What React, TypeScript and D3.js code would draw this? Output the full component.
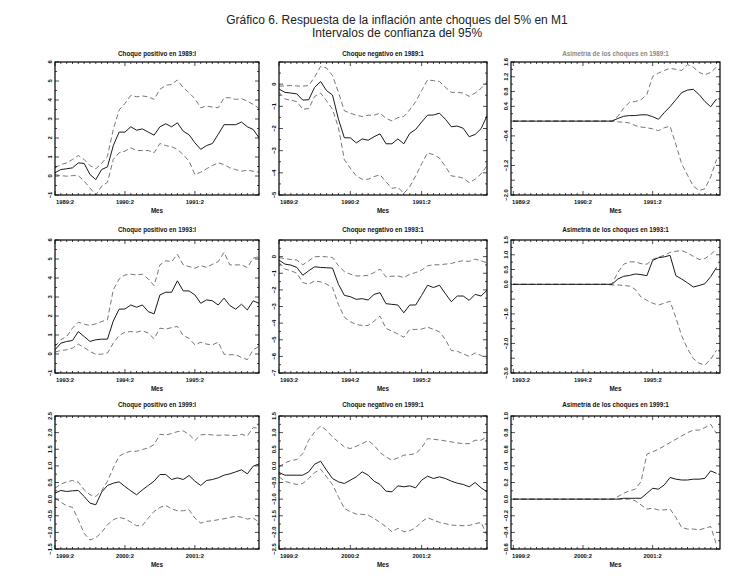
import * as d3 from 'd3'

const FONT = '"Liberation Sans", Arial, Helvetica, sans-serif'

// Panel titles, row by row
const TITLES = [
  'Choque positivo en 1989:I',
  'Choque negativo en 1989:1',
  'Asimetría de los choques en 1989:1',
  'Choque positivo en 1993:I',
  'Choque negativo en 1993:1',
  'Asimetría de los choques en 1993:1',
  'Choque positivo en 1999:I',
  'Choque negativo en 1999:1',
  'Asimetría de los choques en 1999:1',
]

// x tick labels at months 0, 12, 24 of each row
const X_LABELS = [
  ['1989:2', '1990:2', '1991:2'],
  ['1993:2', '1994:2', '1995:2'],
  ['1999:2', '2000:2', '2001:2'],
]
const X_MAJOR = [0, 12, 24]

// y axes: [min, max, step]
const Y_AXES: [number, number, number][] = [
  [-1, 6, 1], [-5, 1, 1], [-2.0, 1.6, 0.4],
  [-1, 6, 1], [-7, 1, 1], [-3, 1.5, 0.5],
  [-1.5, 2.5, 0.5], [-2.5, 1.5, 0.5], [-0.6, 1.0, 0.2],
]
// labelled y ticks per panel
const Y_LABELS: number[][] = [
  [-1, 0, 1, 2, 3, 4, 5, 6],
  [-5, -4, -3, -2, -1, 0],
  [-2.0, -1.2, -0.4, 0.4, 0.8, 1.2, 1.6],
  [-1, 0, 1, 2, 3, 4, 5, 6],
  [-7, -6, -5, -4, -3, -2, -1, 0],
  [-3.0, -2.0, -1.0, 0.0, 0.5, 1.0, 1.5],
  [-1.5, -1.0, -0.5, 0.0, 0.5, 1.0, 1.5, 2.0, 2.5],
  [-2.5, -2.0, -1.5, -1.0, -0.5, 0.0, 0.5, 1.0, 1.5],
  [-0.6, -0.4, -0.2, 0.0, 0.2, 0.4, 0.6, 0.8, 1.0],
]
const Y_DECIMALS = [0, 0, 1, 0, 0, 1, 1, 1, 1]

// ---- responses (36 months) ----
const P1_MID = [0.17, 0.34, 0.38, 0.43, 0.69, 0.66, 0.08, -0.19, 0.34, 0.48, 1.6, 2.31, 2.31, 2.59, 2.41, 2.48, 2.31, 2.15, 2.59, 2.75, 2.59, 2.8, 2.36, 2.17, 1.75, 1.4, 1.6, 1.71, 2.19, 2.7, 2.7, 2.7, 2.84, 2.59, 2.45, 2.01]
const P1_UP = [0.43, 0.6, 0.69, 0.87, 1.08, 0.87, 0.55, 0.38, 0.66, 1.04, 2.45, 3.47, 3.82, 4.24, 4.17, 4.21, 4.17, 4.03, 4.56, 4.77, 4.82, 5.05, 4.65, 4.38, 4.07, 3.59, 3.68, 3.63, 3.59, 4.12, 4.12, 4.03, 4.07, 3.94, 3.77, 3.56]
const P1_LO = [0.08, 0.02, -0.01, 0.02, 0.02, -0.27, -0.63, -1.0, -0.54, -0.33, 0.87, 1.22, 1.31, 1.48, 1.34, 1.34, 1.34, 1.22, 1.71, 1.6, 1.54, 1.4, 1.13, 0.78, 0.08, 0.2, 0.38, 0.55, 0.69, 0.6, 0.43, 0.34, 0.25, 0.31, 0.25, 0.2]

const P2_MID = [-0.22, -0.37, -0.4, -0.44, -0.72, -0.7, -0.14, 0.12, -0.29, -0.49, -1.58, -2.42, -2.42, -2.65, -2.47, -2.53, -2.37, -2.24, -2.69, -2.69, -2.47, -2.69, -2.22, -2.04, -1.71, -1.4, -1.39, -1.31, -1.58, -1.92, -1.89, -1.99, -2.37, -2.27, -2.01, -1.43]
const P2_UP = [-0.09, -0.08, -0.06, -0.08, -0.09, -0.06, 0.32, 0.8, 0.73, 0.39, -0.37, -1.2, -1.31, -1.4, -1.46, -1.4, -1.4, -1.31, -1.54, -1.66, -1.51, -1.46, -1.16, -0.79, -0.29, 0.19, 0.16, 0.12, -0.14, -0.37, -0.37, -0.4, -0.55, -0.4, -0.19, 0.09]
const P2_LO = [-0.37, -0.67, -0.72, -0.79, -1.13, -1.1, -0.55, -0.4, -0.75, -1.13, -1.96, -3.41, -3.79, -4.14, -4.29, -4.29, -4.17, -4.09, -4.4, -4.7, -4.65, -4.93, -4.62, -4.14, -3.59, -3.1, -3.18, -3.33, -3.71, -4.14, -4.17, -4.24, -4.44, -4.29, -4.05, -3.68]

const P3_MID = [0, 0, 0, 0, 0, 0, 0, 0, 0, 0, 0, 0, 0, 0, 0, 0, 0, 0, 0.07, 0.13, 0.15, 0.15, 0.17, 0.17, 0.12, 0.05, 0.23, 0.39, 0.58, 0.77, 0.84, 0.86, 0.72, 0.53, 0.39, 0.6]
const P3_UP = [0, 0, 0, 0, 0, 0, 0, 0, 0, 0, 0, 0, 0, 0, 0, 0, 0, 0, 0.13, 0.35, 0.51, 0.53, 0.58, 0.72, 1.21, 1.3, 1.37, 1.43, 1.4, 1.37, 1.53, 1.46, 1.32, 1.25, 1.32, 1.46]
const P3_LO = [0, 0, 0, 0, 0, 0, 0, 0, 0, 0, 0, 0, 0, 0, 0, 0, 0, 0, -0.02, -0.03, -0.05, -0.12, -0.16, -0.18, -0.21, -0.26, -0.18, -0.14, -0.63, -1.16, -1.46, -1.76, -1.88, -1.83, -1.51, -1.04]

const P4_MID = [0.22, 0.57, 0.66, 0.71, 1.18, 0.92, 0.66, 0.75, 0.78, 0.78, 1.74, 2.36, 2.37, 2.58, 2.46, 2.58, 2.23, 2.11, 3.11, 3.25, 3.25, 3.85, 3.32, 3.32, 3.11, 2.67, 2.85, 2.8, 2.58, 2.94, 2.55, 2.36, 2.62, 2.32, 2.8, 2.67]
const P4_UP = [0.4, 0.75, 0.92, 1.36, 1.67, 1.57, 1.5, 1.59, 1.71, 1.8, 3.37, 3.95, 4.16, 4.2, 4.16, 4.2, 3.95, 3.6, 4.69, 4.91, 4.86, 5.25, 4.69, 4.6, 4.51, 4.65, 4.56, 4.72, 4.86, 5.35, 4.69, 4.69, 4.69, 4.55, 5.04, 5.12]
const P4_LO = [0.1, 0.19, 0.22, 0.31, 0.52, 0.34, 0.13, -0.01, -0.01, 0.05, 0.57, 0.97, 1.15, 1.18, 1.15, 1.22, 1.1, 0.8, 1.36, 1.31, 1.39, 1.45, 0.97, 0.83, 0.48, 0.62, 0.52, 0.48, 0.62, -0.01, -0.04, -0.04, -0.18, -0.3, 0.22, 0.4]

const P5_MID = [-0.21, -0.45, -0.51, -0.65, -1.12, -0.85, -0.61, -0.65, -0.67, -0.69, -1.66, -2.33, -2.41, -2.57, -2.53, -2.61, -2.27, -2.17, -2.83, -2.87, -2.91, -3.38, -2.91, -2.91, -2.33, -1.72, -1.86, -1.72, -2.23, -2.71, -2.37, -2.37, -2.63, -2.27, -2.37, -2.02]
const P5_UP = [-0.05, -0.13, -0.17, -0.21, -0.49, -0.25, -0.01, 0.01, -0.01, -0.05, -0.55, -0.9, -1.06, -1.16, -1.16, -1.12, -0.96, -0.75, -1.22, -1.18, -1.16, -1.26, -1.06, -0.96, -0.81, -0.55, -0.49, -0.49, -0.45, -0.41, -0.31, -0.25, -0.29, -0.15, -0.25, -0.37]
const P5_LO = [-0.35, -0.75, -0.85, -1.0, -1.56, -1.66, -1.46, -1.52, -1.66, -1.86, -2.87, -3.64, -3.92, -4.08, -4.14, -4.14, -3.88, -3.58, -4.32, -4.48, -4.65, -4.85, -4.38, -4.38, -4.36, -4.24, -4.38, -4.52, -4.99, -5.65, -5.69, -5.85, -6.0, -5.79, -5.94, -6.14]

const P6_MID = [0, 0, 0, 0, 0, 0, 0, 0, 0, 0, 0, 0, 0, 0, 0, 0, 0, 0, 0.18, 0.27, 0.3, 0.35, 0.33, 0.29, 0.81, 0.9, 0.93, 0.98, 0.29, 0.18, 0.05, -0.09, -0.04, 0.02, 0.26, 0.57]
const P6_UP = [0, 0, 0, 0, 0, 0, 0, 0, 0, 0, 0, 0, 0, 0, 0, 0, 0, 0.02, 0.4, 0.68, 0.76, 0.76, 0.7, 0.68, 0.84, 0.92, 0.98, 1.08, 1.12, 1.14, 1.06, 0.95, 0.84, 0.87, 1.01, 1.19]
const P6_LO = [0, 0, 0, 0, 0, 0, 0, 0, 0, 0, 0, 0, 0, 0, 0, 0, 0, -0.02, -0.02, -0.04, -0.06, -0.17, -0.43, -0.54, -0.64, -0.7, -0.64, -0.57, -1.13, -1.74, -2.18, -2.51, -2.67, -2.73, -2.53, -2.23]

const P7_MID = [0.18, 0.26, 0.23, 0.25, 0.26, 0.08, -0.12, -0.17, 0.21, 0.41, 0.48, 0.52, 0.38, 0.25, 0.13, 0.28, 0.41, 0.54, 0.74, 0.74, 0.59, 0.64, 0.59, 0.71, 0.54, 0.41, 0.56, 0.59, 0.64, 0.72, 0.76, 0.82, 0.88, 0.76, 0.99, 1.06]
const P7_UP = [0.33, 0.45, 0.52, 0.56, 0.51, 0.28, 0.13, 0.08, 0.25, 0.54, 0.94, 1.29, 1.39, 1.44, 1.44, 1.49, 1.54, 1.64, 1.95, 1.93, 1.97, 2.03, 2.05, 1.95, 1.76, 1.93, 1.95, 1.93, 1.92, 1.93, 1.92, 1.91, 1.95, 1.9, 2.15, 2.13]
const P7_LO = [0.03, -0.09, -0.2, -0.25, -0.62, -1.03, -1.23, -1.16, -1.0, -0.77, -0.62, -0.55, -0.59, -0.69, -0.8, -0.79, -0.57, -0.37, -0.25, -0.19, -0.29, -0.35, -0.35, -0.32, -0.57, -0.72, -0.67, -0.65, -0.62, -0.59, -0.55, -0.52, -0.54, -0.6, -0.57, -0.69]

const P8_MID = [-0.2, -0.28, -0.28, -0.28, -0.28, -0.18, 0.05, 0.14, -0.13, -0.38, -0.48, -0.53, -0.43, -0.33, -0.18, -0.28, -0.46, -0.56, -0.76, -0.78, -0.6, -0.63, -0.6, -0.66, -0.43, -0.31, -0.38, -0.33, -0.38, -0.46, -0.52, -0.56, -0.63, -0.5, -0.66, -0.78]
const P8_UP = [-0.03, 0.09, 0.16, 0.19, 0.37, 0.77, 1.02, 1.2, 1.07, 0.87, 0.72, 0.57, 0.52, 0.59, 0.67, 0.76, 0.62, 0.4, 0.27, 0.17, 0.24, 0.32, 0.34, 0.37, 0.54, 0.82, 0.8, 0.78, 0.75, 0.72, 0.69, 0.67, 0.67, 0.77, 0.77, 0.87]
const P8_LO = [-0.33, -0.46, -0.52, -0.56, -0.53, -0.38, -0.2, -0.1, -0.33, -0.56, -0.93, -1.28, -1.38, -1.45, -1.46, -1.48, -1.58, -1.7, -1.83, -1.98, -1.88, -1.98, -1.95, -1.86, -1.68, -1.56, -1.63, -1.7, -1.74, -1.78, -1.79, -1.8, -1.79, -1.74, -1.7, -2.08]

const P9_MID = [0, 0, 0, 0, 0, 0, 0, 0, 0, 0, 0, 0, 0, 0, 0, 0, 0, 0, 0, 0.01, 0.01, 0.01, 0.01, 0.07, 0.13, 0.12, 0.17, 0.26, 0.24, 0.23, 0.23, 0.24, 0.24, 0.25, 0.34, 0.31]
const P9_UP = [0, 0, 0, 0, 0, 0, 0, 0, 0, 0, 0, 0, 0, 0, 0, 0, 0, 0, 0.03, 0.07, 0.1, 0.12, 0.21, 0.54, 0.57, 0.6, 0.64, 0.68, 0.72, 0.76, 0.8, 0.83, 0.83, 0.86, 0.9, 0.79]
const P9_LO = [0, 0, 0, 0, 0, 0, 0, 0, 0, 0, 0, 0, 0, 0, 0, 0, 0, 0, 0, 0, 0, -0.02, -0.07, -0.12, -0.11, -0.13, -0.13, -0.12, -0.22, -0.34, -0.36, -0.36, -0.37, -0.35, -0.33, -0.55]

const SERIES = [
  [P1_MID, P1_UP, P1_LO], [P2_MID, P2_UP, P2_LO], [P3_MID, P3_UP, P3_LO],
  [P4_MID, P4_UP, P4_LO], [P5_MID, P5_UP, P5_LO], [P6_MID, P6_UP, P6_LO],
  [P7_MID, P7_UP, P7_LO], [P8_MID, P8_UP, P8_LO], [P9_MID, P9_UP, P9_LO],
]

// layout (pixels)
const W = 749
const H = 582
const COLS: [number, number][] = [[55, 259], [279, 487], [511, 720]]
const ROWS: [number, number][] = [[62, 195], [240, 373], [416, 549]]
const X_DOMAINS: [number, number][] = [[0, 35], [0, 35], [-0.4, 35.6]]

function Panel({ k }: { k: number }) {
  const r = Math.floor(k / 3)
  const c = k % 3
  const [x0, x1] = COLS[c]
  const [y0, y1] = ROWS[r]
  const [yMin, yMax, yStep] = Y_AXES[k]
  const [mid, up, lo] = SERIES[k]

  const x = d3.scaleLinear().domain(X_DOMAINS[c]).range([x0, x1])
  const y = d3.scaleLinear().domain([yMin, yMax]).range([y1, y0])
  const line = d3.line<number>().x((_, i) => x(i)).y(d => y(d))

  const yMajor = d3.range(0, Math.round((yMax - yMin) / yStep) + 1).map(i => yMin + i * yStep)
  const yMinor = yMajor.slice(0, -1).map(v => v + yStep / 2)
  const [d0, d1] = X_DOMAINS[c]
  const months = d3.range(Math.ceil(d0), Math.floor(d1) + 1)
  const fmt = d3.format(Y_DECIMALS[k] ? '.1f' : 'd')
  const clipId = `clip-${k}`
  const muted = c === 2 && r === 0

  return (
    <g>
      <defs>
        <clipPath id={clipId}>
          <rect x={x0} y={y0} width={x1 - x0} height={y1 - y0} />
        </clipPath>
      </defs>
      <text x={(x0 + x1) / 2} y={y0 - (r === 0 ? 6 : r === 1 ? 8 : 9)} textAnchor="middle"
        fontSize={6.3} fontWeight="bold" fill={muted ? '#888' : '#111'} fontFamily={FONT}>
        {TITLES[k]}
      </text>

      <g clipPath={`url(#${clipId})`}>
        <path d={line(lo) ?? ''} fill="none" stroke="#666" strokeWidth={0.9} strokeDasharray="5 3" />
        <path d={line(up) ?? ''} fill="none" stroke="#666" strokeWidth={0.9} strokeDasharray="5 3" />
        <path d={line(mid) ?? ''} fill="none" stroke="#1a1a1a" strokeWidth={1} />
      </g>

      {/* month ticks, top and bottom */}
      {months.map(m => {
        const len = X_MAJOR.includes(m) ? 4 : 2
        return (
          <g key={`m${m}`} stroke="#000" strokeWidth={0.7}>
            <line x1={x(m)} x2={x(m)} y1={y1} y2={y1 - len} />
            <line x1={x(m)} x2={x(m)} y1={y0} y2={y0 + len} />
          </g>
        )
      })}
      {/* y ticks, left and right */}
      {yMajor.map(v => (
        <g key={`y${v}`} stroke="#000" strokeWidth={0.7}>
          <line x1={x0} x2={x0 + 4} y1={y(v)} y2={y(v)} />
          <line x1={x1} x2={x1 - 4} y1={y(v)} y2={y(v)} />
        </g>
      ))}
      {yMinor.map(v => (
        <g key={`n${v}`} stroke="#000" strokeWidth={0.7}>
          <line x1={x0} x2={x0 + 2} y1={y(v)} y2={y(v)} />
          <line x1={x1} x2={x1 - 2} y1={y(v)} y2={y(v)} />
        </g>
      ))}

      <rect x={x0} y={y0} width={x1 - x0} height={y1 - y0} fill="none" stroke="#000" strokeWidth={1.2} />

      {Y_LABELS[k].map(v => (
        <text key={`l${v}`} transform={`translate(${x0 - 3},${y(v)}) rotate(-90)`} textAnchor="middle"
          fontSize={5.8} fontWeight="bold" fill="#111" fontFamily={FONT}>
          {fmt(v)}
        </text>
      ))}
      {X_MAJOR.map((m, i) => (
        <text key={`x${m}`} x={i === 0 ? x0 + 1 : x(m)} y={y1 + 9} textAnchor={i === 0 ? 'start' : 'middle'}
          fontSize={5.8} fontWeight="bold" fill="#111" fontFamily={FONT}>
          {X_LABELS[r][i]}
        </text>
      ))}
      <text x={(x0 + x1) / 2} y={y1 + 17.5} textAnchor="middle" fontSize={6.3} fontWeight="bold"
        fill="#111" fontFamily={FONT}>
        Mes
      </text>
    </g>
  )
}

export default function App() {
  return (
    <div style={{ position: 'absolute', left: 0, top: 0, background: '#fff' }}>
      <svg width={W} height={H} viewBox={`0 0 ${W} ${H}`}>
        <rect width={W} height={H} fill="#fff" />
        <text x={397} y={24} textAnchor="middle" fontSize={12} fill="#222" fontFamily={FONT}>
          Gráfico 6. Respuesta de la inflación ante choques del 5% en M1
        </text>
        <text x={397} y={37} textAnchor="middle" fontSize={12} fill="#222" fontFamily={FONT}>
          Intervalos de confianza del 95%
        </text>
        {TITLES.map((_, k) => <Panel key={k} k={k} />)}
      </svg>
    </div>
  )
}
